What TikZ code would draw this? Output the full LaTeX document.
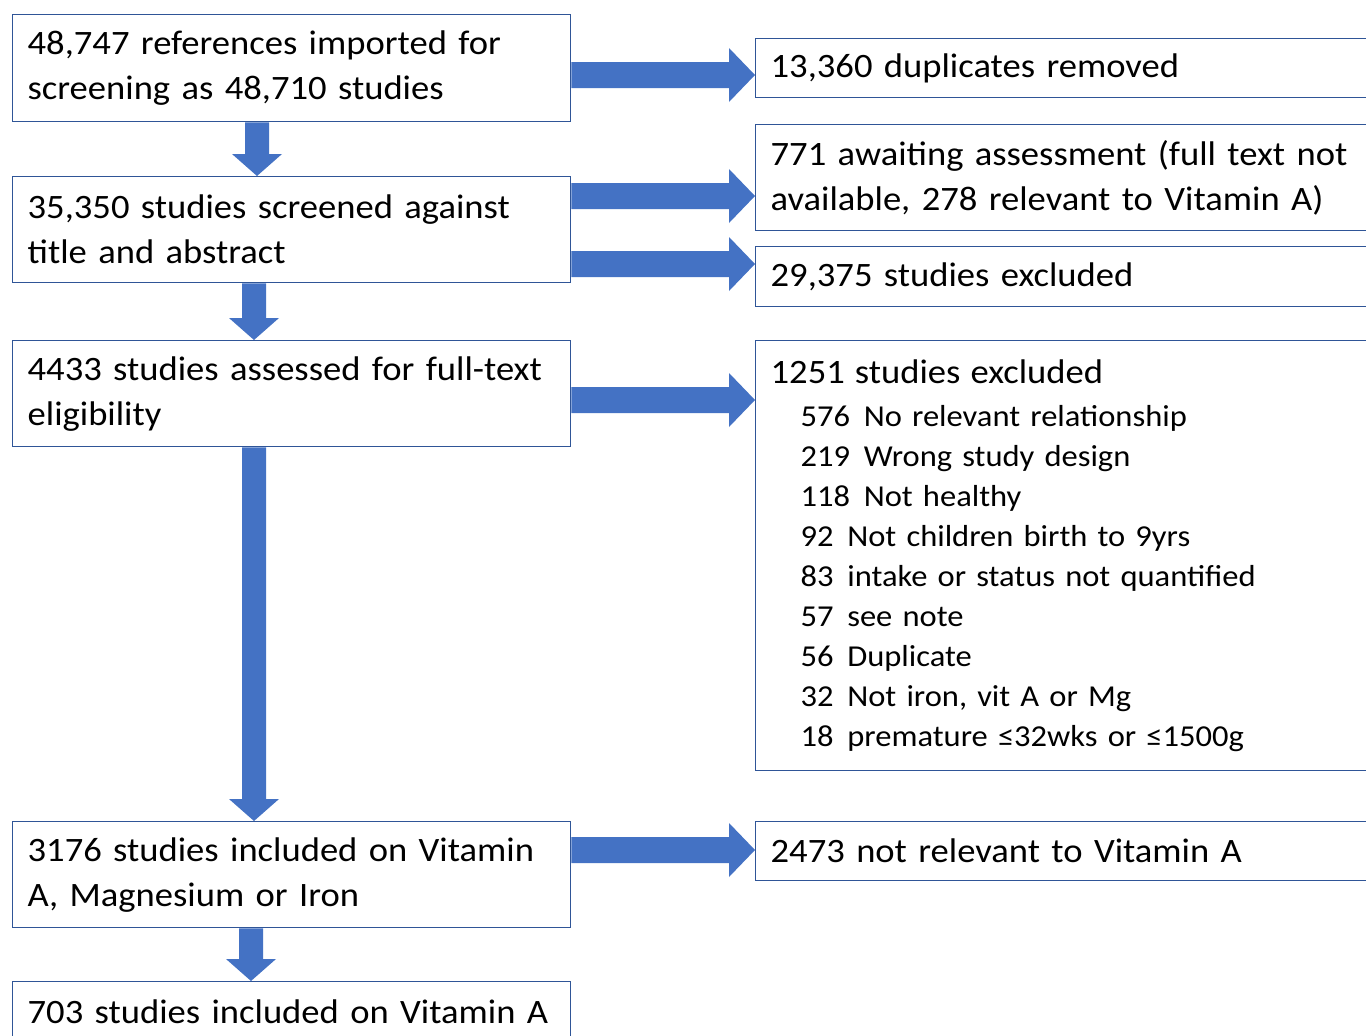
\documentclass[tikz,border=0pt]{standalone}
\usepackage{fontspec}
\setmainfont{Carlito}[FakeStretch=1.07]
\usetikzlibrary{calc}
\definecolor{arrowblue}{HTML}{4472C4}
\definecolor{boxblue}{HTML}{2F5597}
\newcommand\mainfs{\fontsize{34.2}{45}\selectfont}
\newcommand\itemfs{\fontsize{30.4}{40}\selectfont}
\newcommand\ind{\hspace*{30pt}}
\newcommand\gp{\hspace{0.45em}}
\tikzset{
  box/.style={draw=boxblue, line width=1.3pt, fill=white, rectangle, anchor=north west,
    inner xsep=15pt, inner ysep=0pt, align=left, font=\mainfs},
  lbox/.style={box, text width=528pt},
  rbox/.style={box, text width=620pt},
}
% horizontal block arrow: from node, to node, y (px)
\newcommand\harrow[3]{%
  \fill[arrowblue] let \p1=(#1.east), \p2=(#2.west), \p3=(0,#3) in
    (\x1,\y3+13pt) -- (\x2-26pt,\y3+13pt) -- (\x2-26pt,\y3+27pt) -- (\x2,\y3)
    -- (\x2-26pt,\y3-27pt) -- (\x2-26pt,\y3-13pt) -- (\x1,\y3-13pt) -- cycle;}
% vertical block arrow: from node, to node, x (px)
\newcommand\varrow[3]{%
  \fill[arrowblue] let \p1=(#1.south), \p2=(#2.north), \p3=(#3,0) in
    (\x3-12pt,\y1) -- (\x3-12pt,\y2+22pt) -- (\x3-25pt,\y2+22pt) -- (\x3,\y2)
    -- (\x3+25pt,\y2+22pt) -- (\x3+12pt,\y2+22pt) -- (\x3+12pt,\y1) -- cycle;}
\begin{document}
\begin{tikzpicture}[x=1pt,y=-1pt]
\useasboundingbox (0,0) rectangle (1366,1036);
\fill[white] (0,0) rectangle (1366,1036);
% left column
\node[lbox, minimum height=107pt] (b1) at (12,14) {48,747 references imported for\\screening as 48,710 studies};
\node[lbox, minimum height=106pt] (b2) at (12,176) {35,350 studies screened against\\title and abstract};
\node[lbox, minimum height=106pt] (b3) at (12,340) {4433 studies assessed for full-text\\eligibility};
\node[lbox, minimum height=106pt] (b4) at (12,821) {3176 studies included on Vitamin\\A, Magnesium or Iron};
\node[lbox, minimum height=60pt] (b5) at (12,981) {703 studies included on Vitamin A};
% right column
\node[rbox, minimum height=59pt] (r1) at (755,38) {13,360 duplicates removed};
\node[rbox, minimum height=106pt] (r2) at (755,124) {771 awaiting assessment (full text not\\available, 278 relevant to Vitamin A)};
\node[rbox, minimum height=60pt] (r3) at (755,246) {29,375 studies excluded};
\node[rbox, minimum height=430pt, font=\itemfs] (r4) at (755,340) {{\mainfs 1251 studies excluded}\\[3pt]
\ind 576\gp No relevant relationship\\
\ind 219\gp Wrong study design\\
\ind 118\gp Not healthy\\
\ind 92\gp Not children birth to 9yrs\\
\ind 83\gp intake or status not quantified\\
\ind 57\gp see note\\
\ind 56\gp Duplicate\\
\ind 32\gp Not iron, vit A or Mg\\
\ind 18\gp premature ≤32wks or ≤1500g\par\vspace*{6pt}};
\node[rbox, minimum height=59pt] (r5) at (755,821) {2473 not relevant to Vitamin A};
% arrows
\harrow{b1}{r1}{75}
\harrow{b2}{r2}{196}
\harrow{b2}{r3}{264}
\harrow{b3}{r4}{400}
\harrow{b4}{r5}{850}
\varrow{b1}{b2}{257}
\varrow{b2}{b3}{254}
\varrow{b3}{b4}{254}
\varrow{b4}{b5}{251}
\end{tikzpicture}
\end{document}
